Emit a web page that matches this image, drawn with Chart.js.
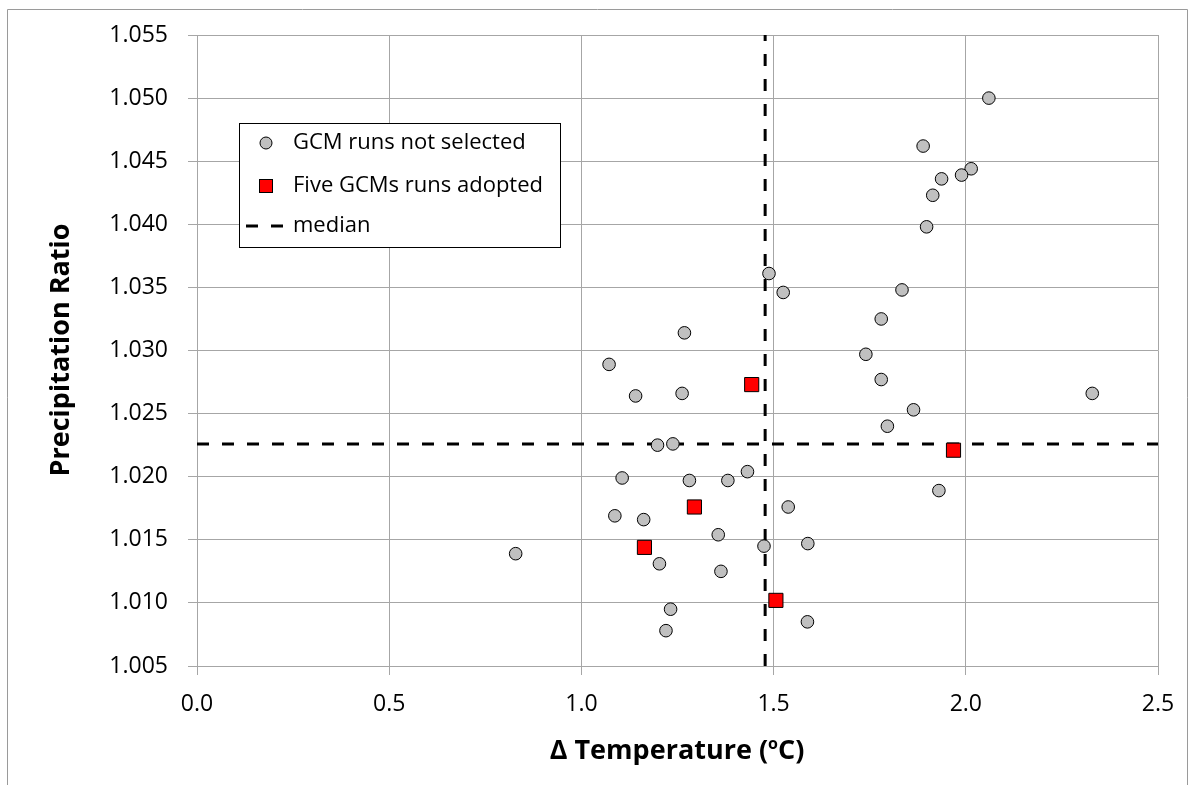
<!DOCTYPE html>
<html><head><meta charset="utf-8">
<script src="https://cdn.jsdelivr.net/npm/chart.js@4"></script>
<style>html,body{margin:0;padding:0;background:#fff}</style>
</head><body>
<canvas id="c" width="1195" height="785" style="width:1195px;height:785px;display:block"></canvas>
<script>
// ---- Data ----
const notSelectedX = [1.525,1.268,1.072,1.141,1.262,1.198,1.238,1.106,1.281,1.381,1.432,1.538,1.087,1.162,1.356,1.475,1.589,0.829,1.203,1.363,1.232,1.588,1.220,1.488,2.060,1.889,2.014,1.989,1.937,1.914,1.898,1.834,1.780,1.740,1.780,2.329,1.864,1.796,1.930];
const notSelectedY = [1.0346,1.0314,1.0289,1.0264,1.0266,1.0225,1.0226,1.0199,1.0197,1.0197,1.0204,1.0176,1.0169,1.0166,1.0154,1.0145,1.0147,1.0139,1.0131,1.0125,1.0095,1.0085,1.0078,1.0361,1.0500,1.0462,1.0444,1.0439,1.0436,1.0423,1.0398,1.0348,1.0325,1.0297,1.0277,1.0266,1.0253,1.0240,1.0189];
const adoptedX = [1.443,1.294,1.164,1.506,1.968];
const adoptedY = [1.0273,1.0176,1.0144,1.0102,1.0221];
const medianX = 1.478;
const medianY = 1.0226;
const xRange = [0, 2.5];
const yRange = [1.005, 1.055];
const seriesLabels = ['GCM runs not selected', 'Five GCMs runs adopted', 'median'];
const yTitle = 'Precipitation Ratio';
const xTitleParts = ['\u0394 Temperature (', 'o', 'C)'];

const toPts = (xs, ys) => xs.map((x, i) => ({x, y: ys[i]}));

const FONT = '"Open Sans", "Liberation Sans", sans-serif';
const dash = [12, 13];

const decor = {
  id: 'decor',
  afterDraw(chart) {
    const ctx = chart.ctx;
    ctx.save();
    // outer frame (left, top, right)
    ctx.strokeStyle = '#9a9a9a'; ctx.lineWidth = 1;
    ctx.beginPath();
    ctx.moveTo(7.5, 785); ctx.lineTo(7.5, 9.5); ctx.lineTo(1187.5, 9.5); ctx.lineTo(1187.5, 785);
    ctx.stroke();
    // legend box
    const L = 239, T = 123, R = 560, B = 247;
    ctx.fillStyle = '#fff'; ctx.fillRect(L, T, R - L, B - T);
    ctx.strokeStyle = '#000'; ctx.lineWidth = 1;
    ctx.strokeRect(L + 0.5, T + 0.5, R - L, B - T);
    ctx.font = '22px ' + FONT; ctx.fillStyle = '#000';
    ctx.textBaseline = 'middle'; ctx.textAlign = 'left';
    // item 1
    ctx.beginPath(); ctx.arc(266, 143, 6, 0, Math.PI * 2);
    ctx.fillStyle = '#c0c0c0'; ctx.fill(); ctx.strokeStyle = '#000'; ctx.stroke();
    ctx.fillStyle = '#000'; ctx.fillText(seriesLabels[0], 293, 143);
    // item 2
    ctx.fillStyle = '#ff0000'; ctx.fillRect(259, 179, 14, 14);
    ctx.strokeRect(259.5, 179.5, 13, 13);
    ctx.fillStyle = '#000'; ctx.fillText(seriesLabels[1], 293, 186);
    // item 3
    ctx.beginPath(); ctx.setLineDash(dash); ctx.lineWidth = 3;
    ctx.moveTo(246, 226); ctx.lineTo(286, 226); ctx.stroke(); ctx.setLineDash([]);
    ctx.fillText(seriesLabels[2], 293, 226);
    // y title
    ctx.save();
    ctx.translate(61, 350); ctx.rotate(-Math.PI / 2);
    ctx.font = 'bold 27px ' + FONT; ctx.textAlign = 'center'; ctx.textBaseline = 'middle';
    ctx.fillText(yTitle, 0, 0);
    ctx.restore();
    // x title with superscript o
    const big = 'bold 27px ' + FONT, small = 'bold 16px ' + FONT;
    ctx.font = big; const w1 = ctx.measureText(xTitleParts[0]).width;
    const w3 = ctx.measureText(xTitleParts[2]).width;
    ctx.font = small; const w2 = ctx.measureText(xTitleParts[1]).width;
    let x = 677 - (w1 + w2 + w3) / 2; const yb = 759;
    ctx.textBaseline = 'alphabetic';
    ctx.font = big; ctx.fillText(xTitleParts[0], x, yb); x += w1;
    ctx.font = small; ctx.fillText(xTitleParts[1], x, yb - 10); x += w2;
    ctx.font = big; ctx.fillText(xTitleParts[2], x, yb);
    ctx.restore();
  }
};

new Chart(document.getElementById('c'), {
  type: 'scatter',
  data: {
    datasets: [
      { label: seriesLabels[1], data: toPts(adoptedX, adoptedY), pointStyle: 'rect', pointRadius: 10,
        pointBackgroundColor: '#ff0000', pointBorderColor: '#000', pointBorderWidth: 1 },
      { label: seriesLabels[0], data: toPts(notSelectedX, notSelectedY), pointStyle: 'circle', pointRadius: 6.3,
        pointBackgroundColor: '#c0c0c0', pointBorderColor: '#000', pointBorderWidth: 1 },
      { label: seriesLabels[2], type: 'line', data: [{x: medianX, y: yRange[0]}, {x: medianX, y: yRange[1]}],
        borderColor: '#000', borderWidth: 3, borderDash: dash, pointRadius: 0, fill: false },
      { label: seriesLabels[2] + ' y', type: 'line', data: [{x: xRange[0], y: medianY}, {x: xRange[1], y: medianY}],
        borderColor: '#000', borderWidth: 3, borderDash: dash, pointRadius: 0, fill: false }
    ]
  },
  options: {
    responsive: false, animation: false, devicePixelRatio: 1,
    layout: { padding: { top: 35, right: 37, left: 0, bottom: 0 } },
    plugins: { legend: { display: false }, tooltip: { enabled: false } },
    scales: {
      x: {
        type: 'linear', min: xRange[0], max: xRange[1],
        ticks: { stepSize: 0.5, color: '#000', font: { family: FONT, size: 23 }, padding: 16,
          callback: v => Number(v).toFixed(1) },
        grid: { color: '#a6a6a6', lineWidth: 1, tickLength: 9 },
        border: { color: '#a6a6a6' },
        afterFit: s => { s.height = 119; }
      },
      y: {
        type: 'linear', min: yRange[0], max: yRange[1],
        ticks: { stepSize: 0.005, color: '#000', font: { family: FONT, size: 23 }, padding: 20,
          callback: v => Number(v).toFixed(3) },
        grid: { color: '#a6a6a6', lineWidth: 1, tickLength: 9 },
        border: { color: '#a6a6a6' },
        afterFit: s => { s.width = 197; }
      }
    }
  },
  plugins: [decor]
});
</script>
</body></html>
